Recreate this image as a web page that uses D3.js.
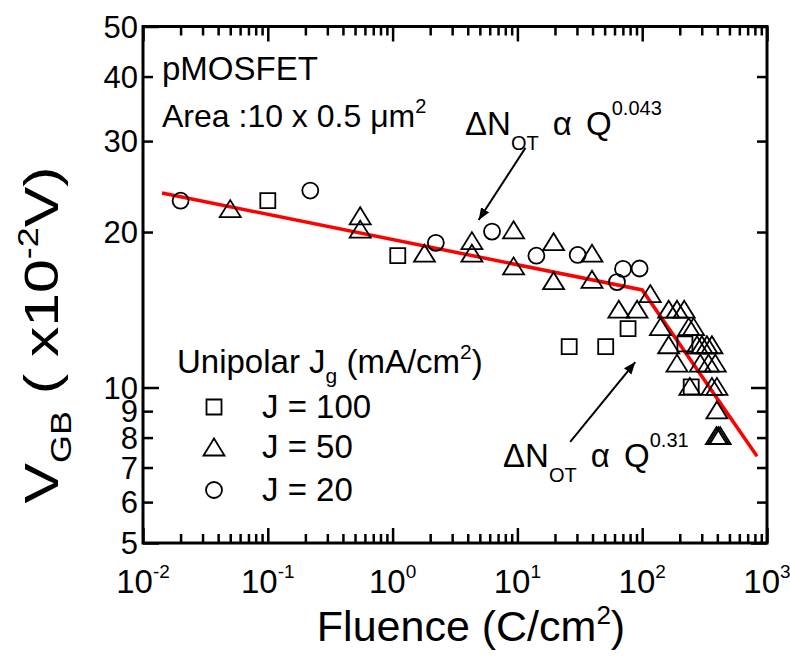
<!DOCTYPE html>
<html>
<head>
<meta charset="utf-8">
<script src="https://cdn.jsdelivr.net/npm/d3@7"></script>
<style>
body { margin: 0; background: #fff; }
text { font-family: "Liberation Sans", Arial, sans-serif; fill: #000; }
</style>
</head>
<body>
<script>
// J = 100 mA/cm2 (squares)
var fluence100 = [0.1, 1.1, 26, 51, 77, 220, 247];
var vgb100 = [23.0, 18.0, 12.0, 12.0, 13.0, 12.15, 10.03];
// J = 50 mA/cm2 (triangles)
var fluence50 = [0.05, 0.55, 0.55, 1.8, 4.32, 4.32, 9.32, 9.32, 19.5, 19.5, 39.6, 39.6,
  65, 91, 116, 163, 190, 217, 140, 236, 258, 163, 275, 301, 330, 362,
  190, 292, 340, 385, 241, 362, 397, 397, 393, 407, 422];
var vgb50 = [22.2, 21.5, 20.26, 18.2, 19.25, 18.2, 20.2, 17.2, 19.16, 16.1, 18.2, 16.2,
  14.18, 14.18, 15.2, 14.18, 14.18, 14.18, 13.12, 13.12, 13.12, 12.1, 12.1, 12.1, 12.1, 12.1,
  11.15, 11.15, 11.15, 11.15, 10.05, 10.05, 10.05, 9.05, 8.07, 8.07, 8.07];
// J = 20 mA/cm2 (circles)
var fluence20 = [0.02, 0.219, 2.22, 6.26, 14.2, 30.4, 70.2, 95.3, 62.8];
var vgb20 = [23.0, 24.06, 19.06, 20.04, 18.0, 18.06, 16.97, 17.0, 16.0];
// fitted power-law line
var fitFluence = [0.0142, 100, 832];
var fitVgb = [23.8, 15.45, 7.36];

var xMajor = [0.01, 0.1, 1, 10, 100, 1000];
var xExp = ["-2", "-1", "0", "1", "2", "3"];
var yMajor = [5, 10, 50];
var yMinor = [6, 7, 8, 9, 20, 30, 40];
var yLabels = [5, 6, 7, 8, 9, 10, 20, 30, 40, 50];

var xMinor = [];
xMajor.slice(0, -1).forEach(function (d) {
  for (var k = 2; k <= 9; k++) xMinor.push(d * k);
});

var W = 790, H = 661;
var pL = 143, pR = 767, pT = 26.5, pB = 543;

var svg = d3.select("body").append("svg")
  .attr("width", W).attr("height", H);

var x = d3.scaleLog().domain([0.01, 1000]).range([pL, pR]);
var y = d3.scaleLog().domain([5, 50]).range([pB, pT]);

// ticks (inward on all four sides)
function tickAxis(axis, tx, ty, len, vals) {
  var g = svg.append("g").attr("transform", "translate(" + tx + "," + ty + ")")
    .call(axis.tickValues(vals).tickSize(len).tickFormat(""));
  g.select(".domain").remove();
  g.selectAll(".tick line").attr("stroke", "#000").attr("stroke-width", 2.5);
}
tickAxis(d3.axisBottom(x), 0, pB, -15, xMajor);
tickAxis(d3.axisBottom(x), 0, pB, -9, xMinor);
tickAxis(d3.axisTop(x), 0, pT, -15, xMajor);
tickAxis(d3.axisTop(x), 0, pT, -9, xMinor);
tickAxis(d3.axisLeft(y), pL, 0, -16, yMajor);
tickAxis(d3.axisLeft(y), pL, 0, -10, yMinor);
tickAxis(d3.axisRight(y), pR, 0, -16, yMajor);
tickAxis(d3.axisRight(y), pR, 0, -10, yMinor);

svg.append("rect")
  .attr("x", pL).attr("y", pT)
  .attr("width", pR - pL).attr("height", pB - pT)
  .attr("fill", "none").attr("stroke", "#000").attr("stroke-width", 3);

// x tick labels
svg.selectAll(".xlab").data(xMajor).enter().append("text")
  .attr("class", "xlab")
  .attr("x", function (d) { return x(d); })
  .attr("y", 593)
  .attr("text-anchor", "middle")
  .style("font-size", "33px")
  .each(function (d, i) {
    var t = d3.select(this);
    t.append("tspan").text("10");
    t.append("tspan").attr("dy", -15).style("font-size", "19px").text(xExp[i]);
  });

// y tick labels
svg.selectAll(".ylab").data(yLabels).enter().append("text")
  .attr("class", "ylab")
  .attr("x", 138)
  .attr("y", function (d) { return y(d) + 11; })
  .attr("text-anchor", "end")
  .style("font-size", "31px")
  .text(function (d) { return d; });

// axis titles
svg.append("text")
  .attr("x", 471).attr("y", 641)
  .attr("text-anchor", "middle")
  .style("font-size", "43px")
  .call(function (t) {
    t.append("tspan").text("Fluence (C/cm");
    t.append("tspan").attr("dy", -17).style("font-size", "26px").text("2");
    t.append("tspan").attr("dy", 17).text(")");
  });

svg.append("text")
  .attr("transform", "translate(58,335) rotate(-90) scale(1.24,1)")
  .attr("text-anchor", "middle")
  .style("font-size", "49px")
  .call(function (t) {
    t.append("tspan").text("V");
    t.append("tspan").attr("dy", 13).style("font-size", "29px").text("GB");
    t.append("tspan").attr("dy", -13).text(" ( x10");
    t.append("tspan").attr("dy", -20).style("font-size", "29px").text("-2");
    t.append("tspan").attr("dy", 20).text("V)");
  });

// fitted line
var line = d3.line()
  .x(function (d) { return x(d[0]); })
  .y(function (d) { return y(d[1]); });
svg.append("path")
  .datum(d3.zip(fitFluence, fitVgb))
  .attr("d", line)
  .attr("fill", "none")
  .attr("stroke", "#ff0000")
  .attr("stroke-width", 3.5);

// markers
var triPath = "M0,-8.5L10.5,8.5L-10.5,8.5Z";
var sqPath = "M-7.5,-7.5H7.5V7.5H-7.5Z";
var circPath = d3.arc()({ innerRadius: 0, outerRadius: 8, startAngle: 0, endAngle: 2 * Math.PI });
function markers(xs, ys, shape) {
  svg.append("g").selectAll("path").data(d3.zip(xs, ys)).enter().append("path")
    .attr("transform", function (d) { return "translate(" + x(d[0]) + "," + y(d[1]) + ")"; })
    .attr("d", shape)
    .attr("fill", "none").attr("stroke", "#000").attr("stroke-width", 1.8);
}
markers(fluence100, vgb100, sqPath);
markers(fluence50, vgb50, triPath);
markers(fluence20, vgb20, circPath);

// text annotations
svg.append("text").attr("x", 162).attr("y", 80).style("font-size", "33px").text("pMOSFET");
svg.append("text").attr("x", 162).attr("y", 127).style("font-size", "32px")
  .call(function (t) {
    t.append("tspan").text("Area :10 x 0.5 \u03bcm");
    t.append("tspan").attr("dy", -14).style("font-size", "20px").text("2");
  });

svg.append("text").attr("x", 177).attr("y", 373).style("font-size", "33px")
  .call(function (t) {
    t.append("tspan").text("Unipolar J");
    t.append("tspan").attr("dy", 10).style("font-size", "21px").text("g");
    t.append("tspan").attr("dy", -10).text(" (mA/cm");
    t.append("tspan").attr("dy", -14).style("font-size", "21px").text("2");
    t.append("tspan").attr("dy", 14).text(")");
  });

var legendNames = ["J = 100", "J = 50", "J = 20"];
var legendShapes = [sqPath, triPath, circPath];
var legendY = [407, 447, 490];
legendNames.forEach(function (name, i) {
  svg.append("path")
    .attr("transform", "translate(214," + legendY[i] + ")")
    .attr("d", legendShapes[i])
    .attr("fill", "none").attr("stroke", "#000").attr("stroke-width", 1.8);
  svg.append("text").attr("x", 262).attr("y", legendY[i] + 11).style("font-size", "33px").text(name);
});

function dnot(tx, ty, expo) {
  svg.append("text").attr("x", tx).attr("y", ty).style("font-size", "33px")
    .call(function (t) {
      t.append("tspan").text("\u0394N");
      t.append("tspan").attr("dy", 15).style("font-size", "20px").text("OT");
      t.append("tspan").attr("dy", -15).attr("dx", 5).text(" \u03b1");
      t.append("tspan").attr("dx", 5).text(" Q");
      t.append("tspan").attr("dy", -20).style("font-size", "20px").text(expo);
    });
}
dnot(465, 135, "0.043");
dnot(503, 467, "0.31");

// arrows
svg.append("defs").append("marker")
  .attr("id", "ah").attr("viewBox", "0 0 10 10")
  .attr("refX", 10).attr("refY", 5)
  .attr("markerWidth", 6).attr("markerHeight", 6)
  .attr("markerUnits", "strokeWidth")
  .attr("orient", "auto")
  .append("path").attr("d", "M0,1L10,5L0,9Z").attr("fill", "#000");

var arrowFrom = [[11.6, 29.1], [26.5, 7.85]];
var arrowTo = [[4.89, 21.1], [88, 11.2]];
arrowFrom.forEach(function (a, i) {
  svg.append("line")
    .attr("x1", x(a[0])).attr("y1", y(a[1]))
    .attr("x2", x(arrowTo[i][0])).attr("y2", y(arrowTo[i][1]))
    .attr("stroke", "#000").attr("stroke-width", 2)
    .attr("marker-end", "url(#ah)");
});
</script>
</body>
</html>
